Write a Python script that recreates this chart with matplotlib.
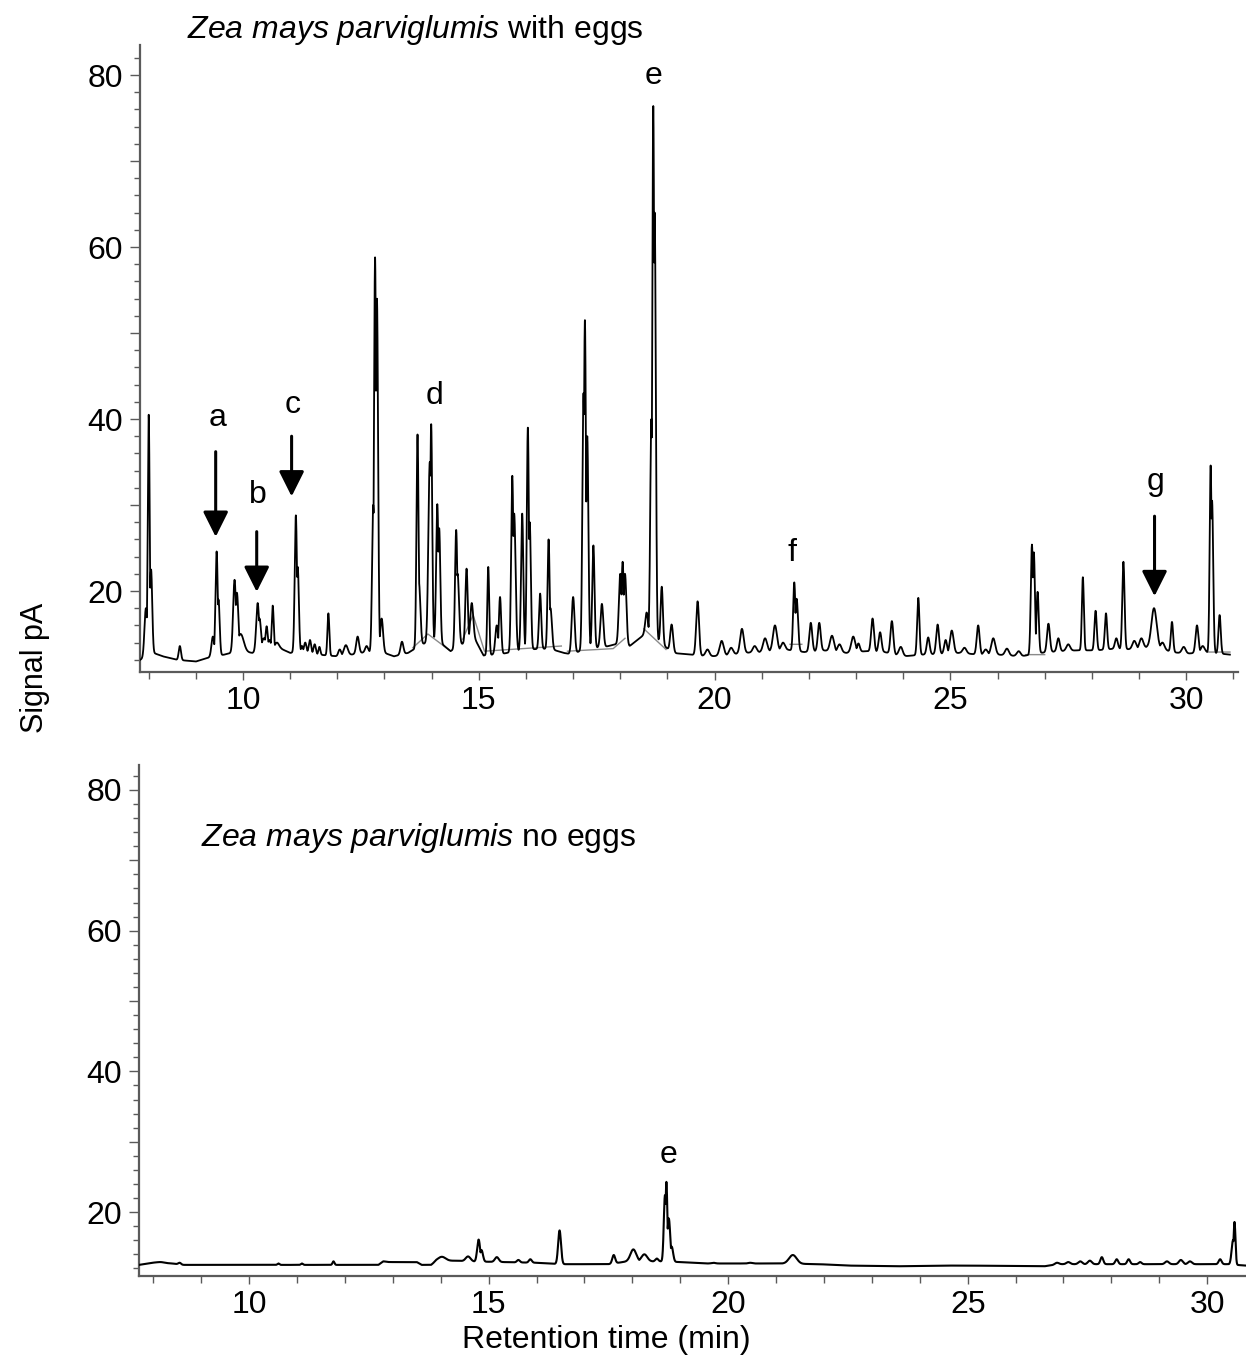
import numpy as np
import matplotlib

matplotlib.use("Agg")
import matplotlib.pyplot as plt
from matplotlib.ticker import FuncFormatter, MultipleLocator

# --- with eggs: baseline knots (min, pA) ---
eggs_base_t = [7.82, 8.1, 8.3, 8.6, 9.0, 9.3, 9.6, 9.9, 10.2, 10.5, 10.8, 11.0, 11.3, 11.6,
               12.0, 12.3, 12.6, 12.9, 13.2, 13.5, 13.8, 14.1, 14.4, 14.7, 14.9, 15.1, 15.5,
               16.0, 16.5, 16.8, 17.0, 17.3, 17.6, 17.9, 18.2, 18.5, 18.8, 19.1, 19.5, 19.9,
               20.2, 20.6, 21.0, 21.5, 21.9, 22.3, 22.8, 23.2, 23.6, 24.0, 24.4, 24.8, 25.2,
               25.6, 26.0, 26.5, 26.9, 27.3, 27.7, 28.1, 28.5, 28.9, 29.3, 29.7, 30.0, 30.4, 30.93]
eggs_base_v = [12.0, 12.8, 12.4, 12.0, 11.8, 12.3, 12.6, 13.0, 12.8, 13.4, 13.3, 12.8, 13.0, 12.6,
               12.4, 12.6, 12.9, 13.0, 12.4, 12.8, 13.8, 14.4, 13.0, 14.0, 14.6, 12.5, 12.7,
               13.2, 13.3, 12.8, 12.6, 13.5, 13.4, 13.8, 13.6, 14.9, 14.3, 12.8, 12.6, 12.4,
               12.5, 12.8, 12.9, 13.2, 12.9, 13.1, 12.8, 13.0, 12.9, 12.4, 12.6, 12.7, 12.8,
               12.6, 12.6, 12.4, 12.8, 13.0, 13.1, 13.1, 13.3, 13.2, 13.6, 12.9, 12.7, 12.9, 12.6]

# --- with eggs: peaks (retention time, apex signal, width) ---
eggs_peak_t = [7.94, 8.00, 8.05, 8.66, 9.36, 9.44, 9.48, 9.82, 9.87, 9.95, 10.31, 10.35, 10.44,
               10.50, 10.56, 10.63, 10.72, 11.12, 11.16, 11.32, 11.42, 11.52, 11.81, 12.18, 12.43,
               12.76, 12.80, 12.84, 12.94, 13.37, 13.70, 13.73, 13.96, 13.99, 14.12, 14.16, 14.52,
               14.55, 14.74, 14.85, 15.20, 15.38, 15.45, 15.71, 15.75, 15.92, 16.04, 16.08, 16.30,
               16.48, 16.52, 17.00, 17.22, 17.25, 17.30, 17.43, 17.61, 18.00, 18.05, 18.10, 18.56,
               18.66, 18.70, 18.73, 18.88, 19.09, 19.64, 20.15, 20.58, 21.07, 21.28, 21.69, 21.74,
               22.04, 22.22, 22.49, 22.94, 23.35, 23.51, 23.76, 24.32, 24.53, 24.73, 25.03, 25.59,
               25.91, 26.73, 26.77, 26.85, 27.08, 27.29, 27.81, 28.08, 28.30, 28.52, 28.67, 29.32,
               29.70, 30.23, 30.52, 30.55, 30.71,
               19.85, 20.35, 20.85, 21.45, 22.65, 23.05, 23.95, 24.90, 25.30, 25.75, 26.20,
               26.45, 27.50, 28.90, 29.05, 29.50, 29.95, 30.35, 11.25, 11.62, 12.05, 12.62]
eggs_peak_h = [18.0, 40.5, 22.5, 13.6, 14.7, 24.6, 19.0, 21.3, 19.8, 15.0, 18.6, 16.8, 14.5,
               15.9, 14.3, 18.3, 14.0, 28.8, 22.8, 14.0, 14.3, 13.8, 17.4, 13.7, 14.7,
               30.0, 58.8, 54.0, 16.8, 14.1, 38.2, 21.0, 35.0, 39.4, 30.1, 27.3, 27.1,
               22.0, 22.6, 18.6, 22.8, 16.0, 19.3, 33.4, 29.0, 29.0, 39.0, 28.0, 19.7,
               26.0, 18.0, 19.3, 43.0, 51.5, 38.0, 25.3, 18.5, 22.0, 23.4, 22.0, 17.5,
               40.0, 76.4, 64.0, 20.5, 16.1, 18.8, 14.2, 15.6, 14.5, 16.0, 21.0, 19.1,
               16.3, 16.3, 14.8, 14.7, 16.8, 15.2, 16.5, 19.2, 14.6, 16.1, 15.4, 16.0,
               14.5, 25.4, 24.5, 19.9, 16.2, 14.5, 21.6, 17.7, 17.4, 14.5, 23.4, 18.0,
               16.4, 16.0, 34.6, 30.5, 17.2,
               13.2, 13.4, 13.6, 14.0, 13.8, 13.9, 13.5, 14.3, 13.4, 13.2, 13.3,
               13.0, 13.8, 14.2, 14.5, 14.0, 13.5, 13.6, 13.6, 13.5, 13.2, 13.6]
eggs_peak_w = [0.03, 0.02, 0.024, 0.024, 0.03, 0.024, 0.024, 0.03, 0.03, 0.065, 0.03, 0.03, 0.042,
               0.024, 0.03, 0.02, 0.042, 0.024, 0.024, 0.024, 0.024, 0.024, 0.02, 0.042, 0.03,
               0.024, 0.022, 0.024, 0.03, 0.03, 0.022, 0.03, 0.03, 0.022, 0.024, 0.024, 0.024,
               0.03, 0.024, 0.03, 0.02, 0.03, 0.024, 0.024, 0.03, 0.024, 0.022, 0.024, 0.024,
               0.022, 0.03, 0.03, 0.024, 0.022, 0.024, 0.024, 0.03, 0.03, 0.024, 0.03, 0.03,
               0.024, 0.021, 0.024, 0.024, 0.03, 0.03, 0.042, 0.038, 0.042, 0.042, 0.024, 0.03,
               0.03, 0.03, 0.042, 0.042, 0.03, 0.03, 0.03, 0.024, 0.03, 0.03, 0.038, 0.03,
               0.042, 0.024, 0.024, 0.024, 0.03, 0.03, 0.021, 0.024, 0.024, 0.03, 0.024, 0.055,
               0.024, 0.03, 0.021, 0.024, 0.024,
               0.04, 0.04, 0.04, 0.04, 0.04, 0.03, 0.04, 0.03, 0.04, 0.04, 0.04,
               0.04, 0.04, 0.04, 0.04, 0.04, 0.04, 0.04, 0.02, 0.02, 0.03, 0.03]

# integrator baseline drawn in grey (NaN separates pieces)
eggs_grey_t = [13.60, 13.92, 14.38, np.nan, 14.66, 14.88, 15.12, 16.75, np.nan,
               16.88, 17.85, 18.10, np.nan, 18.50, 18.97, np.nan, 21.60, 21.85, np.nan,
               26.60, 27.00, np.nan, 30.45, 30.93]
eggs_grey_v = [13.4, 15.0, 13.1, np.nan, 14.4, 17.2, 13.0, 13.6, np.nan,
               13.0, 13.3, 14.5, np.nan, 15.6, 13.2, np.nan, 13.8, 13.8, np.nan,
               12.6, 12.6, np.nan, 12.9, 12.9]

# --- no eggs ---
none_base_t = [7.70, 8.0, 8.4, 8.6, 12.7, 12.8, 13.5, 13.6, 13.8, 13.9, 14.3, 14.6, 15.3, 16.0,
               16.5, 17.5, 17.9, 18.6, 19.0, 19.5, 20.5, 21.0, 21.9, 22.5, 23.5, 24.5, 25.0,
               26.6, 26.9, 30.4, 30.81]
none_base_v = [12.5, 12.8, 12.7, 12.5, 12.5, 12.9, 12.9, 12.5, 12.5, 13.0, 13.1, 13.0, 12.9, 12.8,
               12.6, 12.6, 13.0, 13.0, 12.9, 12.7, 12.7, 12.7, 12.6, 12.4, 12.3, 12.4, 12.4,
               12.3, 12.6, 12.6, 12.4]
none_peak_t = [8.15, 8.55, 10.61, 11.10, 11.76, 12.80, 14.02, 14.57, 14.79, 14.85, 15.17, 15.62,
               15.87, 16.48, 17.61, 18.02, 18.25, 18.51, 18.68, 18.71, 18.76, 18.82, 19.69,
               20.46, 21.35, 26.86, 27.10, 27.35, 27.55, 27.80, 28.11, 28.36, 28.60, 29.16,
               29.45, 29.64, 30.27, 30.54, 30.57]
none_peak_h = [12.9, 12.8, 12.7, 12.7, 13.0, 13.0, 13.65, 13.7, 16.1, 14.6, 13.6, 13.2,
               13.3, 17.4, 13.9, 14.7, 14.0, 13.4, 22.4, 24.3, 19.1, 15.1, 12.8,
               12.8, 13.9, 12.8, 12.9, 13.0, 13.1, 13.6, 13.3, 13.3, 12.9, 13.0,
               13.2, 13.0, 13.3, 16.0, 18.6]
none_peak_w = [0.08, 0.03, 0.02, 0.02, 0.02, 0.05, 0.08, 0.05, 0.03, 0.03, 0.04, 0.03,
               0.03, 0.03, 0.03, 0.06, 0.06, 0.03, 0.024, 0.02, 0.03, 0.03, 0.04,
               0.04, 0.08, 0.04, 0.04, 0.04, 0.04, 0.03, 0.03, 0.03, 0.03, 0.04,
               0.04, 0.04, 0.03, 0.03, 0.02]

# peak letters: label, retention time, label height, arrow (tail, tip) or None
eggs_labels = ["a", "b", "c", "d", "e", "f", "g"]
eggs_label_t = [9.45, 10.32, 11.06, 14.05, 18.70, 21.64, 29.36]
eggs_label_y = [40.1, 31.2, 41.6, 42.7, 79.9, 24.4, 32.7]
eggs_arrows = [(36.2, 26.3), (26.9, 19.9), (38.0, 31.0), None, None, None, (28.7, 19.4)]
none_labels = ["e"]
none_label_t = [18.75]
none_label_y = [28.1]

FONT = ["Liberation Sans", "DejaVu Sans"]


def build_trace(t, base_t, base_v, peak_t, peak_h, peak_w):
    base = np.interp(t, base_t, base_v)
    env = np.zeros_like(t)
    for pt, ph, pw in zip(peak_t, peak_h, peak_w):
        amp = ph - np.interp(pt, base_t, base_v)
        env = np.maximum(env, amp * np.exp(-0.5 * ((t - pt) / pw) ** 2))
    return base + env


def style_axis(ax, xlim, ylim):
    ax.set_xlim(*xlim)
    ax.set_ylim(*ylim)
    for side in ("top", "right"):
        ax.spines[side].set_visible(False)
    for side in ("left", "bottom"):
        ax.spines[side].set_color("#5a5a5a")
        ax.spines[side].set_linewidth(1.6)
    ax.xaxis.set_major_locator(MultipleLocator(5))
    ax.xaxis.set_minor_locator(MultipleLocator(1))
    ax.yaxis.set_major_locator(MultipleLocator(10))
    ax.yaxis.set_minor_locator(MultipleLocator(2))
    ax.yaxis.set_major_formatter(FuncFormatter(lambda v, _: f"{v:.0f}" if v % 20 == 0 else ""))
    ax.tick_params(which="both", color="#5a5a5a", width=1.0, labelsize=23)
    ax.tick_params(axis="x", which="major", length=6, pad=4)
    ax.tick_params(axis="x", which="minor", length=5)
    ax.tick_params(axis="y", which="major", length=7, pad=5)
    ax.tick_params(axis="y", which="minor", length=4)


def main() -> int:
    plt.rcParams["font.family"] = FONT
    plt.rcParams["mathtext.fontset"] = "custom"
    plt.rcParams["mathtext.it"] = "Liberation Sans:italic"
    plt.rcParams["mathtext.rm"] = "Liberation Sans"

    W, H = 1246, 1359
    fig = plt.figure(figsize=(W / 100, H / 100), dpi=100)
    ax1 = fig.add_axes([140 / W, 1 - 672 / H, 1098 / W, 627 / H])
    ax2 = fig.add_axes([139 / W, 1 - 1276 / H, 1107 / W, 511 / H])

    t1 = np.arange(7.82, 30.93, 0.002)
    y1 = build_trace(t1, eggs_base_t, eggs_base_v, eggs_peak_t, eggs_peak_h, eggs_peak_w)
    ax1.plot(eggs_grey_t, eggs_grey_v, color="#8a8a8a", lw=1.0, zorder=2)
    ax1.plot(t1, y1, color="black", lw=1.3, zorder=3)
    style_axis(ax1, (7.815, 31.1), (10.58, 83.5))

    t2 = np.arange(7.70, 30.81, 0.002)
    y2 = build_trace(t2, none_base_t, none_base_v, none_peak_t, none_peak_h, none_peak_w)
    ax2.plot(t2, y2, color="black", lw=1.5, zorder=3)
    style_axis(ax2, (7.70, 30.81), (10.92, 83.55))

    for lab, lt, ly, arr in zip(eggs_labels, eggs_label_t, eggs_label_y, eggs_arrows):
        ax1.text(lt, ly, lab, fontsize=23, ha="center", va="center")
        if arr is not None:
            ax1.annotate("", xy=(lt - 0.03, arr[1]), xytext=(lt - 0.03, arr[0]),
                         arrowprops=dict(arrowstyle="-|>,head_length=0.7,head_width=0.35",
                                         color="black", lw=2.2, mutation_scale=22,
                                         shrinkA=0, shrinkB=0))
    for lab, lt, ly in zip(none_labels, none_label_t, none_label_y):
        ax2.text(lt, ly, lab, fontsize=23, ha="center", va="center")

    fig.text(187 / W, 1 - 30 / H, r"$\it{Zea\ mays\ parviglumis}$ with eggs",
             fontsize=23, ha="left", va="center")
    fig.text(201 / W, 1 - 838 / H, r"$\it{Zea\ mays\ parviglumis}$ no eggs",
             fontsize=23, ha="left", va="center")
    fig.text(35 / W, 1 - 668 / H, "Signal pA", rotation=90, ha="center", va="center",
             fontsize=22)
    fig.text(606 / W, 1 - 1340 / H, "Retention time (min)", fontsize=23,
             ha="center", va="center")

    fig.savefig("out.png", dpi=100, facecolor="white")
    plt.close(fig)
    return 0


if __name__ == "__main__":
    raise SystemExit(main())
